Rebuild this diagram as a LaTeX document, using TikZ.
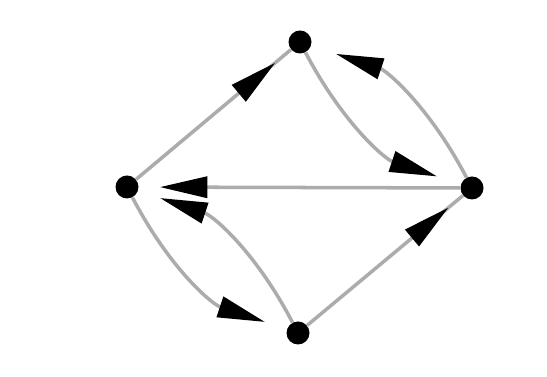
\documentclass[tikz,border=0pt]{standalone}
\usetikzlibrary{arrows.meta, decorations.markings}

\tikzset{
	dot/.style={circle, fill=black, inner sep=0pt, minimum size=0.46cm},
	edge/.style={draw=gray!65, line width=2pt},
	tip/.style={-{Triangle[length=0.95cm, width=0.42cm, black]}},
	midtip/.style={postaction={decorate, decoration={markings,
		mark=at position #1 with {\arrow{Triangle[length=0.95cm, width=0.42cm, black]}}}}}
}

\begin{document}
\begin{tikzpicture}[x=0.02cm, y=0.02cm]
	% рамка картинки
	\useasboundingbox[fill=white] (0,0) rectangle (547,377);

	% вершины
	\node[dot] (top)    at (300,335) {};
	\node[dot] (left)   at (127,190) {};
	\node[dot] (right)  at (472,189) {};
	\node[dot] (bottom) at (298,44)  {};

	% прямые рёбра
	\draw[edge, midtip=0.9]  (left) -- (top);
	\draw[edge, midtip=0.91] (bottom) -- (right);
	\draw[edge, tip, shorten >=0.42cm] (right) -- (left);

	% дуги
	\draw[edge, tip, shorten >=0.5cm]  (top) to[bend right=22] (right);
	\draw[edge, tip, shorten >=0.52cm] (right) to[bend right=22] (top);
	\draw[edge, tip, shorten >=0.46cm] (bottom) to[bend right=22] (left);
	\draw[edge, tip, shorten >=0.46cm] (left) to[bend right=22] (bottom);
\end{tikzpicture}
\end{document}
